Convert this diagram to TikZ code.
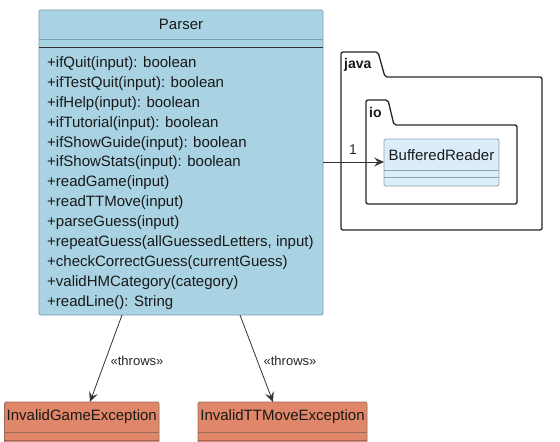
\documentclass[tikz,border=0pt]{standalone}
\usepackage{fontspec}
\setmainfont{Liberation Sans}
\usetikzlibrary{arrows.meta}
\definecolor{pblue}{HTML}{A9D3E3}
\definecolor{pline}{HTML}{7E9FB0}
\definecolor{brfill}{HTML}{DBEDF8}
\definecolor{brline}{HTML}{8EA3AF}
\definecolor{exfill}{HTML}{E0876A}
\definecolor{exline}{HTML}{9A6A5A}
\definecolor{arr}{HTML}{333333}
\tikzset{
  x=1pt, y=-1pt,
  classbox/.style={draw=pline, line width=0.8pt, rounded corners=1.5pt},
  pkgline/.style={draw=black!85, line width=1.3pt, rounded corners=2pt},
  txt/.style={font=\fontsize{15}{17}\selectfont, inner sep=0pt, text=black!90},
  meth/.style={txt, anchor=west},
  pkgtxt/.style={txt, font=\bfseries\fontsize{14}{16}\selectfont, anchor=west},
  conn/.style={draw=arr, line width=0.8pt, -{Stealth[length=10pt,width=9pt,inset=4pt]}},
  lbl/.style={font=\fontsize{13}{15}\selectfont, inner sep=0pt, text=black!85},
}
\begin{document}
\begin{tikzpicture}
\useasboundingbox (0,0) rectangle (560,442);
\begin{scope}
\clip (0,0) rectangle (560,442);
% Parser
\path[classbox, fill=pblue] (39,10) rectangle (323,315);
\draw[pline, line width=0.8pt] (39,39.5) -- (323,39.5);
\draw[black!80, line width=1pt] (39,47.5) -- (323,47.5);
\node[txt] (ptitle) at (181,24) {Parser};
\coordinate (pb1) at (122,315);
\coordinate (pb2) at (240,315);
\coordinate (pr) at (323,162);
\node[meth] (m1) at (47,64) {+ifQuit(input): boolean};
\node[meth] (m2) at (47,84) {+ifTestQuit(input): boolean};
\node[meth] (m3) at (47,103.5) {+ifHelp(input): boolean};
\node[meth] (m4) at (47,123.5) {+ifTutorial(input): boolean};
\node[meth] (m5) at (47,143.5) {+ifShowGuide(input): boolean};
\node[meth] (m6) at (47,163) {+ifShowStats(input): boolean};
\node[meth] (m7) at (47,183) {+readGame(input)};
\node[meth] (m8) at (47,203) {+readTTMove(input)};
\node[meth] (m9) at (47,223) {+parseGuess(input)};
\node[meth] (m10) at (47,243) {+repeatGuess(allGuessedLetters, input)};
\node[meth] (m11) at (47,263) {+checkCorrectGuess(currentGuess)};
\node[meth] (m12) at (47,283) {+validHMCategory(category)};
\node[meth] (m13) at (47,303) {+readLine(): String};
% packages
\path[pkgline] (341,77) -- (341,52) -- (378,52) -- (385,77) -- (542,77) -- (542,230) -- (341,230) -- cycle;
\node[pkgtxt] (java) at (344,65) {java};
\path[pkgline] (366,125) -- (366,100) -- (388,100) -- (394,125) -- (517,125) -- (517,204) -- (366,204) -- cycle;
\node[pkgtxt] (io) at (369,112.5) {io};
% BufferedReader
\path[draw=brline, fill=brfill, line width=0.8pt, rounded corners=1.5pt] (384,139) rectangle (499,186);
\draw[brline, line width=0.8pt] (384,170) -- (499,170);
\draw[brline, line width=0.8pt] (384,177.5) -- (499,177.5);
\node[txt] (br) at (441.5,155) {BufferedReader};
\coordinate (brl) at (384,162);
% exceptions
\path[draw=exline, fill=exfill, line width=0.8pt, rounded corners=1.5pt] (4.5,402) rectangle (159,460);
\draw[exline, line width=0.8pt] (4.5,432) -- (159,432);
\draw[exline, line width=0.8pt] (4.5,440) -- (159,440);
\node[txt] (ige) at (81.75,417) {InvalidGameException};
\coordinate (iget) at (90,402);
\path[draw=exline, fill=exfill, line width=0.8pt, rounded corners=1.5pt] (198,402) rectangle (367,460);
\draw[exline, line width=0.8pt] (198,432) -- (367,432);
\draw[exline, line width=0.8pt] (198,440) -- (367,440);
\node[txt] (itte) at (282.5,417) {InvalidTTMoveException};
\coordinate (ittet) at (273,402);
\end{scope}
% connectors
\draw[conn] (pr) -- (brl);
\node[lbl, font=\fontsize{14}{16}\selectfont] (one) at (353,150) {1};
\draw[conn] (pb1) -- (iget);
\node[lbl] (t1) at (137,361) {«throws»};
\draw[conn] (pb2) -- (ittet);
\node[lbl] (t2) at (290,361) {«throws»};
\end{tikzpicture}
\end{document}
